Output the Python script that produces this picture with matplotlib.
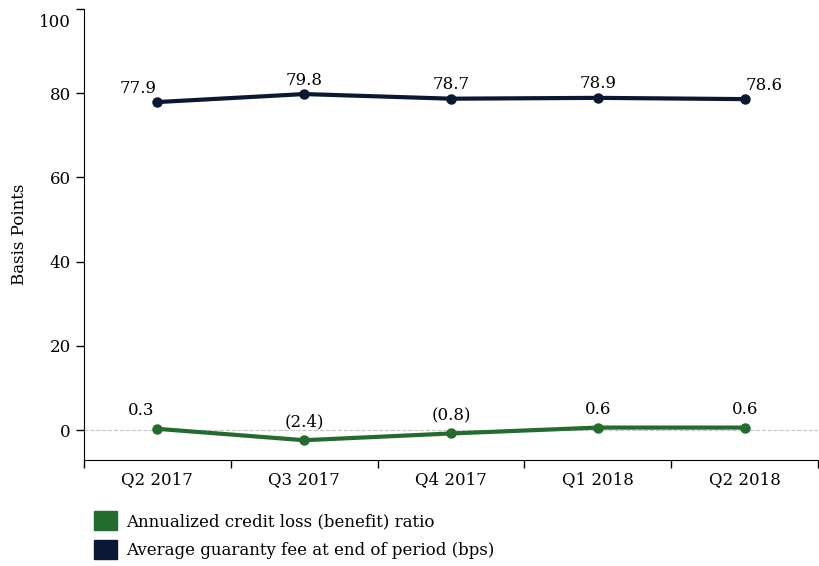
import matplotlib.pyplot as plt
import matplotlib.transforms as mtransforms
from matplotlib.patches import Patch

quarters = ['Q2 2017', 'Q3 2017', 'Q4 2017', 'Q1 2018', 'Q2 2018']
credit_loss = [0.3, -2.4, -0.8, 0.6, 0.6]
credit_labels = ['0.3', '(2.4)', '(0.8)', '0.6', '0.6']
guaranty_fee = [77.9, 79.8, 78.7, 78.9, 78.6]
fee_labels = ['77.9', '79.8', '78.7', '78.9', '78.6']

green = '#236b2e'
navy = '#0b1833'

plt.rcParams['font.family'] = ['DejaVu Serif']

fig = plt.figure(figsize=(8.19, 5.66), dpi=100)
ax = fig.add_axes([84 / 819, 1 - 460 / 566, 734 / 819, 451 / 566])

x = list(range(len(quarters)))
ax.axhline(0, color='#c4c4c4', lw=0.8, ls='--', zorder=1)
ax.plot(x, guaranty_fee, color=navy, lw=3, marker='o', ms=6.5, zorder=3)
ax.plot(x, credit_loss, color=green, lw=3, marker='o', ms=6.5, zorder=3)

for i, (v, t) in enumerate(zip(guaranty_fee, fee_labels)):
    dx = -14 if i == 0 else (14 if i == len(x) - 1 else 0)
    ax.annotate(t, (i, v), xytext=(dx, 10), textcoords='offset points',
                ha='center', va='center', fontsize=12)
for i, (v, t) in enumerate(zip(credit_loss, credit_labels)):
    dx = -12 if i == 0 else 0
    ax.annotate(t, (i, v), xytext=(dx, 13), textcoords='offset points',
                ha='center', va='center', fontsize=12)

ax.set_xlim(-0.5, 4.43)
ax.set_ylim(-7.1, 100)
ax.set_yticks([0, 20, 40, 60, 80, 100])
ax.set_xticks(x)
ax.set_xticklabels(quarters, fontsize=12)
ax.set_xticks([i - 0.5 for i in range(len(x) + 1)], minor=True)
ax.tick_params(axis='x', which='major', length=0, pad=8)
ax.tick_params(axis='x', which='minor', length=6, width=1)
ax.tick_params(axis='y', labelsize=12, length=6, width=1)
ax.spines['top'].set_visible(False)
ax.spines['right'].set_visible(False)
ax.set_ylabel('Basis Points', fontsize=12, labelpad=8)

# top label sits a bit lower in the original
fig.canvas.draw()
top_lbl = ax.get_yticklabels()[-1]
top_lbl.set_transform(top_lbl.get_transform() +
                      mtransforms.ScaledTranslation(0, -8 / 72, fig.dpi_scale_trans))

handles = [Patch(color=green), Patch(color=navy)]
fig.legend(handles, ['Annualized credit loss (benefit) ratio',
                     'Average guaranty fee at end of period (bps)'],
           loc='upper left', bbox_to_anchor=(0.104, 0.112), frameon=False,
           fontsize=12, handlelength=1.4, handleheight=1.4, labelspacing=0.6,
           handletextpad=0.55, borderpad=0)

fig.savefig('out.png', dpi=100)
